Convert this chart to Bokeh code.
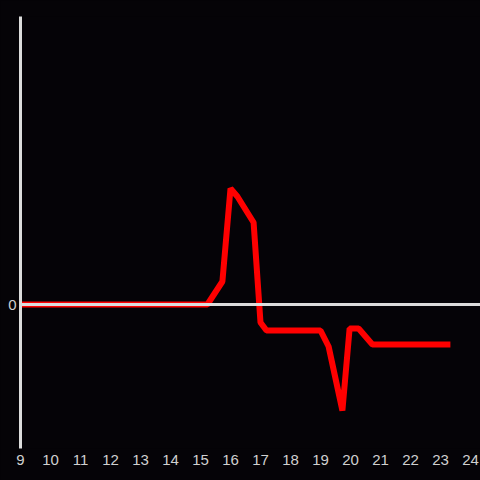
from bokeh.plotting import figure
from bokeh.models import FixedTicker, Span, Range1d, GlobalInlineStyleSheet
from bokeh.embed import file_html
from bokeh.resources import INLINE

hours = [9, 10, 11, 12, 13, 14, 15, 15.23, 15.73, 16.0, 16.23, 16.77, 17.0, 17.2,
         19.0, 19.27, 19.73, 19.97, 20.27, 20.73, 23.33]
values = [0, 0, 0, 0, 0, 0, 0, 0, 2.3, 11.6, 10.8, 8.2, -1.8, -2.6,
          -2.6, -4.2, -10.6, -2.4, -2.4, -4.0, -4.0]
x_ticks = list(range(9, 25))
y_ticks = [0]

BG = "#050307"
p = figure(width=480, height=480, output_backend="svg", toolbar_location=None,
           x_range=Range1d(9, 24.3333), y_range=Range1d(-14.4, 28.8),
           min_border_left=20, min_border_right=0, min_border_top=16, min_border_bottom=32,
           background_fill_color=BG, border_fill_color=BG)
p.stylesheets = [GlobalInlineStyleSheet(
    css="html, body { margin: 0 !important; padding: 0; background-color: #050307; overflow: hidden; }")]
p.outline_line_color = None
p.grid.visible = False

zero = Span(location=0, dimension="width", line_color="#dcdcdc", line_width=3)
p.add_layout(zero)

p.line(hours, values, line_color="#ff0000", line_width=6)

p.xaxis.ticker = FixedTicker(ticks=x_ticks)
p.xaxis.axis_line_color = None
p.xaxis.major_tick_line_color = None
p.xaxis.minor_tick_line_color = None
p.xaxis.major_tick_out = 0
p.xaxis.major_tick_in = 0
p.xaxis.major_label_text_color = "#d0d0d0"
p.xaxis.major_label_text_font = "Liberation Sans"
p.xaxis.major_label_text_font_size = "15px"
p.xaxis.major_label_standoff = 6

p.yaxis.ticker = FixedTicker(ticks=y_ticks)
p.yaxis.axis_line_color = "#dcdcdc"
p.yaxis.axis_line_width = 3
p.yaxis.major_tick_line_color = None
p.yaxis.minor_tick_line_color = None
p.yaxis.major_tick_out = 0
p.yaxis.major_tick_in = 0
p.yaxis.major_label_text_color = "#d0d0d0"
p.yaxis.major_label_text_font = "Liberation Sans"
p.yaxis.major_label_text_font_size = "15px"
p.yaxis.major_label_standoff = 4

open("out.html", "w").write(file_html(p, INLINE))
